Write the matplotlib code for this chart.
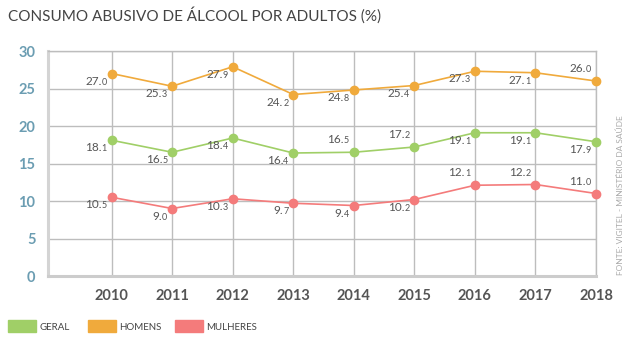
import matplotlib.pyplot as plt

plt.rcParams['font.family'] = ['Lato', 'DejaVu Sans']

anos = [2010, 2011, 2012, 2013, 2014, 2015, 2016, 2017, 2018]
geral = [18.1, 16.5, 18.4, 16.4, 16.5, 17.2, 19.1, 19.1, 17.9]
homens = [27.0, 25.3, 27.9, 24.2, 24.8, 25.4, 27.3, 27.1, 26.0]
mulheres = [10.5, 9.0, 10.3, 9.7, 9.4, 10.2, 12.1, 12.2, 11.0]

# label above (True) or below (False) each point
geral_acima = [False, False, False, False, True, True, False, False, False]
homens_acima = [False, False, False, False, False, False, False, False, True]
mulheres_acima = [False, False, False, False, False, False, True, True, True]

cor_geral = '#a0cf67'
cor_homens = '#f0aa3c'
cor_mulheres = '#f47b7b'

fig = plt.figure(figsize=(6.39, 3.46), dpi=100)
ax = fig.add_axes([0.0751, 0.2023, 0.8576, 0.6503])

ax.set_xlim(2008.95, 2018)
ax.set_ylim(0, 30)
ax.set_xticks(anos)
ax.set_yticks([0, 5, 10, 15, 20, 25, 30])
ax.grid(True, color='#bdbdbd', lw=1)
ax.set_axisbelow(True)

for lado in ['top', 'right']:
    ax.spines[lado].set_color('#bdbdbd')
    ax.spines[lado].set_linewidth(1)
ax.spines['left'].set_color('#d4d4d4')
ax.spines['left'].set_linewidth(2.2)
ax.spines['bottom'].set_color('#cccccc')
ax.spines['bottom'].set_linewidth(2.2)

ax.tick_params(length=0)
ax.tick_params(axis='y', pad=9, labelsize=10.5, labelcolor='#6b9db2')
ax.tick_params(axis='x', pad=9, labelsize=10.5, labelcolor='#555555')
for t in ax.get_xticklabels() + ax.get_yticklabels():
    t.set_fontweight('bold')


def rotular(valores, acima):
    for x, v, up in zip(anos, valores, acima):
        inteiro, dec = f'{v:.1f}'.split('.')
        dy = 5 if up else -3
        va = 'bottom' if up else 'top'
        # small decimal digit, then the bigger integer part to its left
        d = ax.annotate(dec, (x, v), xytext=(-3.5, dy), textcoords='offset points',
                        ha='right', va=va, fontsize=6.5, color='#555555')
        ax.annotate(inteiro + '.', xy=(0, 0), xycoords=d, ha='right',
                    va='bottom', fontsize=8.5, color='#555555')


for valores, cor, acima in [(homens, cor_homens, homens_acima),
                            (geral, cor_geral, geral_acima),
                            (mulheres, cor_mulheres, mulheres_acima)]:
    ax.plot(anos, valores, color=cor, lw=1.2, marker='o', ms=6,
            clip_on=False, zorder=3)
    rotular(valores, acima)

fig.text(0.0125, 0.955, 'CONSUMO ABUSIVO DE ÁLCOOL POR ADULTOS (%)',
         fontsize=11, color='#444444', va='center', ha='left')

fig.text(0.97, 0.205, 'FONTE: VIGITEL - MINISTÉRIO DA SAÚDE', rotation=90,
         fontsize=6, color='#aaaaaa', ha='center', va='bottom')

# legend boxes along the bottom
legenda = [('GERAL', cor_geral, 8), ('HOMENS', cor_homens, 88),
           ('MULHERES', cor_mulheres, 175)]
for nome, cor, px in legenda:
    fig.patches.append(plt.Rectangle((px / 639, 1 - 332 / 346), 28 / 639,
                                     12 / 346, transform=fig.transFigure,
                                     color=cor))
    fig.text((px + 31) / 639, 1 - 327 / 346, nome, fontsize=7,
             color='#444444', va='center', ha='left')

fig.savefig('out.png', dpi=100)
